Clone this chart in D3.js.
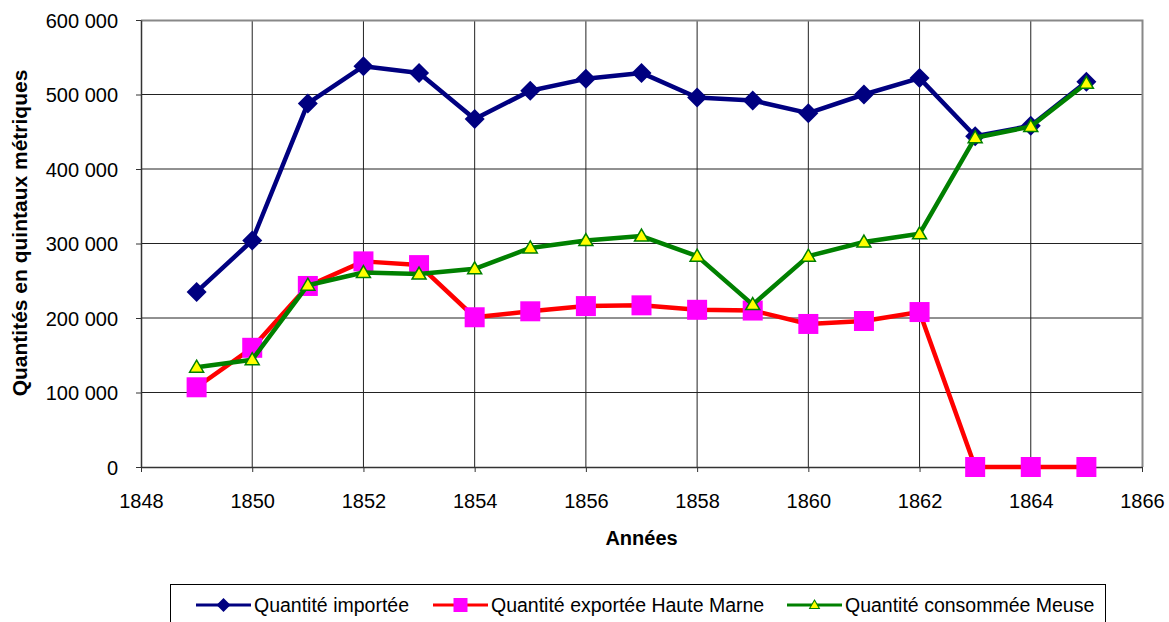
<!DOCTYPE html>
<html>
<head>
<meta charset="utf-8">
<script src="https://cdn.jsdelivr.net/npm/d3@7"></script>
<style>
  body { margin: 0; background: #fff; }
  text { font-family: "Liberation Sans", Arial, sans-serif; }
</style>
</head>
<body>
<div id="chart"></div>
<script>
// data
var years = [1849, 1850, 1851, 1852, 1853, 1854, 1855, 1856, 1857, 1858, 1859, 1860, 1861, 1862, 1863, 1864, 1865];
var importee = [235000, 304000, 488000, 538000, 529000, 467000, 505000, 521000, 529000, 496000, 492000, 475000, 500000, 522000, 444000, 458000, 517000];
var exportee = [107000, 160000, 243000, 276000, 271000, 201000, 209000, 216000, 217000, 211000, 210000, 192000, 196000, 208000, 0, 0, 0];
var consommee = [134000, 144000, 244000, 261000, 259000, 266000, 294000, 304000, 310000, 283000, 218000, 283000, 302000, 313000, 442000, 457000, 515000];
var xTicks = [1848, 1850, 1852, 1854, 1856, 1858, 1860, 1862, 1864, 1866];
var yTicks = [0, 100000, 200000, 300000, 400000, 500000, 600000];

var W = 1169, H = 622;
var margin = {top: 20, right: 27, bottom: 155, left: 141},
    width = W - margin.left - margin.right,
    height = H - margin.top - margin.bottom;

var svg = d3.select("#chart")
  .append("svg")
    .attr("width", W)
    .attr("height", H)
  .append("g")
    .attr("transform", "translate(" + margin.left + "," + margin.top + ")");

var x = d3.scaleLinear().domain([1848, 1866]).range([0, width]);
var y = d3.scaleLinear().domain([0, 600000]).range([height, 0]);

var fmt = function (d) { return d3.format(",")(d).replace(/,/g, " "); };

// grid
svg.append("g").selectAll("line.h")
  .data(yTicks.slice(1, -1))
  .enter().append("line")
    .attr("x1", 0).attr("x2", width)
    .attr("y1", function (d) { return y(d); })
    .attr("y2", function (d) { return y(d); })
    .attr("stroke", "#222").attr("stroke-width", 1);
svg.append("g").selectAll("line.v")
  .data(xTicks.slice(1, -1))
  .enter().append("line")
    .attr("x1", function (d) { return x(d); })
    .attr("x2", function (d) { return x(d); })
    .attr("y1", 0).attr("y2", height)
    .attr("stroke", "#222").attr("stroke-width", 1);

// frame top/right
svg.append("path")
  .attr("d", "M0,0.5H" + (width + 0.5) + "V" + height)
  .attr("fill", "none").attr("stroke", "#888").attr("stroke-width", 2);

// axes
var xAxis = svg.append("g")
  .attr("transform", "translate(0," + height + ")")
  .call(d3.axisBottom(x).tickValues(xTicks).tickFormat(d3.format("d")).tickSize(5).tickSizeOuter(0));
var yAxis = svg.append("g")
  .call(d3.axisLeft(y).tickValues(yTicks).tickFormat(fmt).tickSize(5).tickSizeOuter(0));
[xAxis, yAxis].forEach(function (a) {
  a.select(".domain").attr("stroke", "#333").attr("stroke-width", 1.5);
  a.selectAll(".tick line").attr("stroke", "#333");
  a.selectAll("text").style("font-size", "20px").attr("fill", "#000");
});
xAxis.selectAll("text").attr("y", 27).attr("dy", "0.71em");
yAxis.selectAll("text").attr("x", -23).attr("dy", "0.35em");

// axis titles
svg.append("text")
  .attr("x", width / 2).attr("y", 525)
  .style("text-anchor", "middle").style("font-weight", "bold").style("font-size", "20px")
  .text("Années");
svg.append("text")
  .attr("transform", "rotate(-90)")
  .attr("x", -213).attr("y", -114)
  .style("text-anchor", "middle").style("font-weight", "bold").style("font-size", "21px")
  .text("Quantités en quintaux métriques");

var series = [
  {name: "Quantité importée", values: importee, line: "#000080", marker: "diamond", fill: "#000080", stroke: "#000080"},
  {name: "Quantité exportée Haute Marne", values: exportee, line: "#ff0000", marker: "square", fill: "#ff00ff", stroke: "#ff00ff"},
  {name: "Quantité consommée Meuse", values: consommee, line: "#008000", marker: "triangle", fill: "#ffff00", stroke: "#008000"}
];

function markerPath(type) {
  if (type === "diamond") return "M0,-10L10,0L0,10L-10,0Z";
  if (type === "square") return "M-10,-10H10V10H-10Z";
  return "M0,-7L7,5H-7Z";
}

var line = d3.line()
  .x(function (d) { return x(d[0]); })
  .y(function (d) { return y(d[1]); });

series.forEach(function (s) {
  var pts = years.map(function (yr, i) { return [yr, s.values[i]]; });
  var g = svg.append("g");
  g.append("path")
    .datum(pts)
    .attr("d", line)
    .attr("fill", "none")
    .attr("stroke", s.line)
    .attr("stroke-width", 4.5)
    .attr("stroke-linejoin", "round");
  g.selectAll("path.m")
    .data(pts)
    .enter().append("path")
      .attr("class", "m")
      .attr("transform", function (d) { return "translate(" + x(d[0]) + "," + y(d[1]) + ")"; })
      .attr("d", markerPath(s.marker))
      .attr("fill", s.fill)
      .attr("stroke", s.stroke)
      .attr("stroke-width", s.marker === "triangle" ? 1.5 : 0);
});

// legend
var legend = d3.select("svg").append("g").attr("transform", "translate(170,584)");
legend.append("rect")
  .attr("x", 0.5).attr("y", 0.5).attr("width", 935).attr("height", 40)
  .attr("fill", "#fff").attr("stroke", "#000").attr("stroke-width", 1);
var legX = [26, 263, 617];
series.forEach(function (s, i) {
  var lg = legend.append("g").attr("transform", "translate(" + legX[i] + ",21)");
  lg.append("line").attr("x1", 0).attr("x2", 55).attr("stroke", s.line).attr("stroke-width", 3);
  lg.append("path")
    .attr("transform", "translate(27.5,0) scale(0.7)")
    .attr("d", markerPath(s.marker))
    .attr("fill", s.fill).attr("stroke", s.stroke)
    .attr("stroke-width", s.marker === "triangle" ? 1.5 : 0);
  lg.append("text")
    .attr("x", 58).attr("y", 7)
    .style("font-size", "19.5px")
    .text(s.name);
});
</script>
</body>
</html>
